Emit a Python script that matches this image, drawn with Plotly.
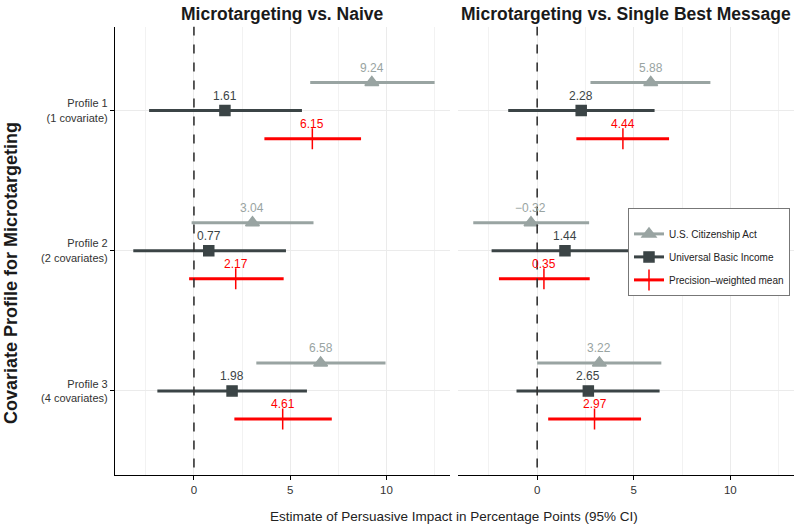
import plotly.graph_objects as go

# ---------------- data ----------------
profiles = ["Profile 1<br>(1 covariate)", "Profile 2<br>(2 covariates)", "Profile 3<br>(4 covariates)"]
series_names = ["U.S. Citizenship Act", "Universal Basic Income", "Precision\u2013weighted mean"]

# Panel 1: Microtargeting vs. Naive
naive_cit_est = [9.24, 3.04, 6.58]
naive_cit_lo = [6.04, -0.12, 3.24]
naive_cit_hi = [12.5, 6.21, 9.95]
naive_ubi_est = [1.61, 0.77, 1.98]
naive_ubi_lo = [-2.33, -3.15, -1.90]
naive_ubi_hi = [5.61, 4.78, 5.87]
naive_pwm_est = [6.15, 2.17, 4.61]
naive_pwm_lo = [3.66, -0.25, 2.10]
naive_pwm_hi = [8.68, 4.66, 7.16]

# Panel 2: Microtargeting vs. Single Best Message
sbm_cit_est = [5.88, -0.32, 3.22]
sbm_cit_lo = [2.76, -3.31, 0.00]
sbm_cit_hi = [8.97, 2.69, 6.43]
sbm_ubi_est = [2.28, 1.44, 2.65]
sbm_ubi_lo = [-1.50, -2.36, -1.07]
sbm_ubi_hi = [6.08, 5.24, 6.34]
sbm_pwm_est = [4.44, 0.35, 2.97]
sbm_pwm_lo = [2.03, -1.98, 0.57]
sbm_pwm_hi = [6.83, 2.72, 5.38]

panel_titles = ["Microtargeting vs. Naive", "Microtargeting vs. Single Best Message"]
x_tick_vals = [0, 5, 10]

# ---------------- style ----------------
FONT = "Liberation Sans, Arial, Helvetica, sans-serif"
colors = ["#99a4a2", "#3b4446", "#ff0000"]
symbols = ["triangle-up", "square", "cross-thin-open"]
msizes = [12, 10, 15]
dodge = [-0.2, 0.0, 0.2]

panels = [
    [(naive_cit_est, naive_cit_lo, naive_cit_hi),
     (naive_ubi_est, naive_ubi_lo, naive_ubi_hi),
     (naive_pwm_est, naive_pwm_lo, naive_pwm_hi)],
    [(sbm_cit_est, sbm_cit_lo, sbm_cit_hi),
     (sbm_ubi_est, sbm_ubi_lo, sbm_ubi_hi),
     (sbm_pwm_est, sbm_pwm_lo, sbm_pwm_hi)],
]

W, H = 794, 527
fig = go.Figure()
annotations = []
base_y = list(range(1, len(profiles) + 1))

for p, panel in enumerate(panels):
    xa = "x" if p == 0 else "x2"
    for s, (est, lo, hi) in enumerate(panel):
        ys = [b + dodge[s] for b in base_y]
        fig.add_trace(go.Scatter(
            x=est, y=ys, xaxis=xa, yaxis="y", mode="markers",
            marker=dict(symbol=symbols[s], size=msizes[s], color=colors[s],
                        line=dict(color=colors[s], width=1.5)),
            error_x=dict(type="data", symmetric=False,
                         array=[h - e for h, e in zip(hi, est)],
                         arrayminus=[e - l for e, l in zip(est, lo)],
                         color=colors[s], thickness=3, width=0),
            showlegend=False, hoverinfo="skip",
        ))
        for e, yv in zip(est, ys):
            annotations.append(dict(
                x=e, y=yv, xref=xa, yref="y", text=f"{e:.2f}".replace("-", "\u2212"),
                showarrow=False, yshift=15, font=dict(family=FONT, size=12, color=colors[s]),
            ))

# legend entries
for s in range(3):
    fig.add_trace(go.Scatter(
        x=[None], y=[None], mode="lines+markers", name=series_names[s],
        legendgroup=f"g{s}",
        marker=dict(symbol=symbols[s], size=msizes[s], color=colors[s],
                    line=dict(color=colors[s], width=1.5)),
        line=dict(color=colors[s], width=3), showlegend=True,
    ))

# panel titles
x1d = [115 / W, 450 / W]
x2d = [458 / W, 1.0]
for p, dom in enumerate([x1d, x2d]):
    annotations.append(dict(
        x=(dom[0] + dom[1]) / 2, y=1 - 14 / H, xref="paper", yref="paper",
        text=f"<b>{panel_titles[p]}</b>", showarrow=False, xanchor="center", yanchor="middle",
        font=dict(family=FONT, size=17.5, color="#1a1a1a"),
    ))
# axis titles
annotations.append(dict(
    x=454 / W, y=1 - 516 / H, xref="paper", yref="paper",
    text="Estimate of Persuasive Impact in Percentage Points (95% CI)", showarrow=False,
    xanchor="center", yanchor="middle", font=dict(family=FONT, size=13.5, color="#222222"),
))
annotations.append(dict(
    x=11 / W, y=1 - 273 / H, xref="paper", yref="paper",
    text="<b>Covariate Profile for Microtargeting</b>", showarrow=False, textangle=-90,
    xanchor="center", yanchor="middle", font=dict(family=FONT, size=18, color="#1a1a1a"),
))

shapes = []
for xa in ["x", "x2"]:
    shapes.append(dict(type="line", xref=xa, yref="y", x0=0, x1=0, y0=0.4, y1=3.6,
                       line=dict(color="#333333", width=1.6, dash="dash"), layer="above"))

xaxis_common = dict(
    range=[-4.1, 13.3], tickvals=x_tick_vals, ticktext=[str(v) for v in x_tick_vals],
    showgrid=True, gridcolor="#ebebeb", gridwidth=1,
    minor=dict(dtick=2.5, tick0=0, showgrid=True, gridcolor="#f2f2f2", gridwidth=1),
    showline=True, linecolor="black", linewidth=1.2, ticks="outside", ticklen=4,
    tickcolor="black", tickfont=dict(family=FONT, size=11.5, color="#333333"),
    zeroline=False, anchor="y",
)

fig.update_layout(
    width=W, height=H, margin=dict(l=0, r=0, t=0, b=0),
    plot_bgcolor="white", paper_bgcolor="white",
    xaxis=dict(domain=x1d, **xaxis_common),
    xaxis2=dict(domain=x2d, **xaxis_common),
    yaxis=dict(domain=[1 - 475 / H, 1 - 26.5 / H], range=[3.6, 0.4],
               tickvals=base_y, ticktext=profiles, showgrid=True, gridcolor="#ebebeb",
               showline=True, linecolor="black", linewidth=1.2, ticks="outside", ticklen=4,
               tickcolor="black", zeroline=False, anchor="x",
               tickfont=dict(family=FONT, size=11, color="#333333")),
    legend=dict(x=628 / W, y=1 - 208 / H, xanchor="left", yanchor="top",
                bgcolor="white", bordercolor="#777777", borderwidth=1,
                font=dict(family=FONT, size=10, color="#222222"),
                title=dict(text=" ", font=dict(size=8)), itemwidth=30,
                tracegroupgap=4, traceorder="grouped"),
    annotations=annotations, shapes=shapes,
)

fig.write_html("out.html", config={"displayModeBar": False},
               post_script="document.body.style.margin='0';")
